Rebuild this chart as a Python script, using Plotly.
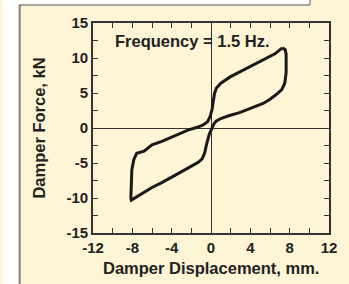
import plotly.graph_objects as go

# Hysteresis loop (displacement mm, force kN)
displacement_mm = [7.25, 7.55, 7.64, 7.64, 7.5, 7.2, 6.6, 6.0, 5.3, 4.0, 2.9, 1.8, 1.0, 0.55, 0.3,
                   0.1, -0.2, -0.45, -0.65, -0.9, -1.3, -2.3, -3.3, -4.3, -5.0, -6.0, -7.3, -8.1,
                   -8.15, -8.12, -8.05, -7.85, -7.55, -6.8, -6.0, -5.0, -4.0, -3.3, -2.35, -1.4,
                   -0.8, -0.35, -0.1, 0.1, 0.22, 0.35, 0.55, 1.0, 1.95, 3.6, 5.26, 6.5, 7.25]
force_kN = [11.45, 11.2, 10.5, 7.9, 6.4, 5.5, 4.75, 4.1, 3.5, 2.8, 2.2, 1.75, 1.35, 1.0, 0.6,
            0.0, -1.0, -2.3, -3.6, -4.4, -4.9, -5.7, -6.5, -7.3, -7.8, -8.5, -9.6, -10.3,
            -10.0, -8.0, -6.0, -4.5, -3.6, -3.3, -2.4, -1.9, -1.3, -0.9, -0.3, 0.1,
            0.45, 0.9, 1.6, 2.6, 3.8, 4.9, 5.7, 6.4, 7.3, 8.5, 9.6, 10.6, 11.45]

x_ticks = [-12, -8, -4, 0, 4, 8, 12]
y_ticks = [-15, -10, -5, 0, 5, 10, 15]

W, H = 349, 284
L, R, T, B = 93, 13, 23, 51
pw, ph = W - L - R, H - T - B

def px(xp):
    return (xp - L) / pw

def py(yp):
    return (H - B - yp) / ph

BEIGE = "#FEF4D6"
FONT = "Liberation Sans"
INK = "#222222"

fig = go.Figure()
fig.add_trace(go.Scatter(x=displacement_mm, y=force_kN, mode="lines",
                         line=dict(color="#1a1a1a", width=3), showlegend=False,
                         hoverinfo="skip"))

axis_common = dict(showgrid=False, ticks="inside", ticklen=5, tickwidth=1.2, tickcolor="#333",
                   showline=True, linecolor="#333", linewidth=1.6, mirror="allticks",
                   zeroline=True, zerolinecolor="#333", zerolinewidth=1.3,
                   tickfont=dict(family=FONT, size=15, color=INK, weight="bold"))

fig.update_xaxes(range=[-12, 12], tickvals=x_ticks, ticktext=[str(v) for v in x_ticks],
                 minor=dict(dtick=2, ticks="inside", ticklen=5, tickwidth=1.2, tickcolor="#333"),
                 **axis_common)
fig.update_yaxes(range=[-15, 15], tickvals=y_ticks, ticktext=[str(v) for v in y_ticks],
                 minor=dict(dtick=2.5, ticks="inside", ticklen=5, tickwidth=1.2, tickcolor="#333"),
                 **axis_common)

shapes = [
    # white strips outside the beige panel
    dict(type="rect", xref="paper", yref="paper", x0=px(0), x1=px(17.5), y0=py(H), y1=py(0),
         fillcolor="white", line=dict(width=0), layer="below"),
    dict(type="rect", xref="paper", yref="paper", x0=px(0), x1=px(316.5), y0=py(5), y1=py(0),
         fillcolor="white", line=dict(width=0), layer="below"),
    # panel borders
    dict(type="line", xref="paper", yref="paper", x0=px(17.5), x1=px(17.5), y0=py(5), y1=py(H),
         line=dict(color="#8a8a8a", width=2.2)),
    dict(type="line", xref="paper", yref="paper", x0=px(17), x1=px(316.5), y0=py(5), y1=py(5),
         line=dict(color="#555555", width=1.2)),
    dict(type="line", xref="paper", yref="paper", x0=px(316.5), x1=px(316.5), y0=py(0), y1=py(5),
         line=dict(color="#777777", width=1.2)),
]

annotations = [
    dict(text="<b>Frequency = 1.5 Hz.</b>", x=-1.86, y=12.5, xref="x", yref="y",
         showarrow=False, font=dict(family=FONT, size=16.5, color=INK),
         xanchor="center", yanchor="middle"),
    dict(text="<b>Damper Displacement, mm.</b>", x=0.5, y=py(268), xref="paper", yref="paper",
         showarrow=False, font=dict(family=FONT, size=16.5, color=INK),
         xanchor="center", yanchor="middle"),
    dict(text="<b>Damper Force, kN</b>", x=px(37), y=0.5, xref="paper", yref="paper",
         showarrow=False, textangle=-90, font=dict(family=FONT, size=16.5, color=INK),
         xanchor="center", yanchor="middle"),
]

fig.update_layout(width=W, height=H, margin=dict(l=L, r=R, t=T, b=B, pad=0),
                  paper_bgcolor=BEIGE, plot_bgcolor="rgba(0,0,0,0)",
                  shapes=shapes, annotations=annotations,
                  font=dict(family=FONT, color=INK))

# remove the browser's default 8px page margin so the figure sits at the window's corner
fig.write_html("out.html", config={"displayModeBar": False},
               post_script="document.body.style.margin='0px';")
